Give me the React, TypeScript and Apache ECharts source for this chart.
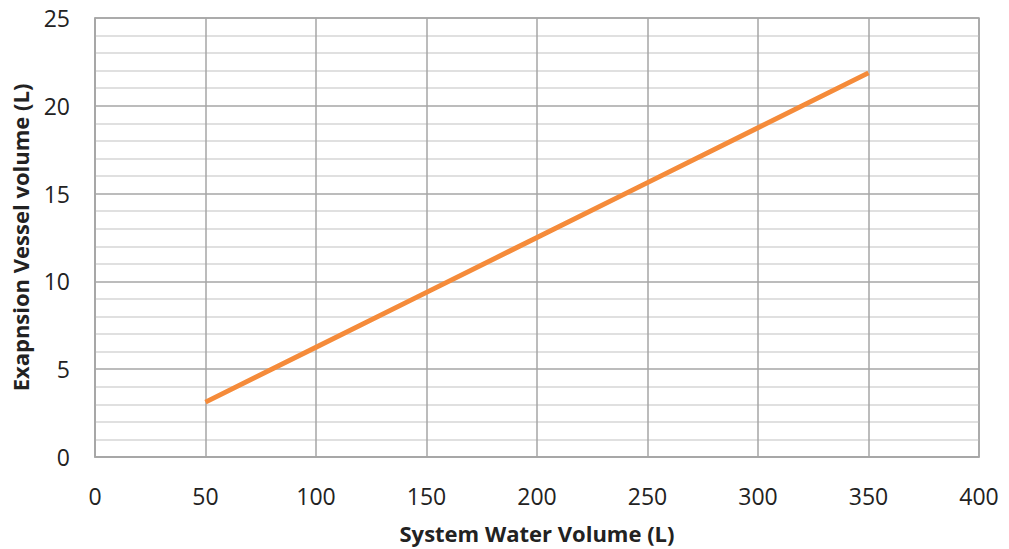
import React, { useEffect, useRef } from "react";
import * as echarts from "echarts";

const systemVolumes = [50, 100, 150, 200, 250, 300, 350];
const vesselVolumes = [3.125, 6.25, 9.375, 12.5, 15.625, 18.75, 21.875];
const xTitle = "System Water Volume (L)";
const yTitle = "Exapnsion Vessel volume (L)";

export default function App() {
  const ref = useRef<HTMLDivElement>(null);
  useEffect(() => {
    const chart = echarts.init(ref.current!, null, { renderer: "svg" });
    const font = "'Open Sans', sans-serif";
    chart.setOption({
      animation: false,
      backgroundColor: "#ffffff",
      grid: {
        left: 95,
        right: 30,
        top: 18,
        bottom: 92,
        outerBoundsMode: "none",
        containLabel: false,
        show: true,
        borderColor: "#a6a6a6",
        borderWidth: 1.5,
      },
      xAxis: {
        type: "value",
        min: 0,
        max: 400,
        interval: 50,
        name: xTitle,
        nameLocation: "middle",
        nameGap: 64,
        nameTextStyle: { fontFamily: font, fontWeight: "bold", fontSize: 22, lineHeight: 24, color: "#222" },
        axisLine: { show: true, lineStyle: { color: "#a6a6a6", width: 1.5 } },
        axisTick: { show: false },
        axisLabel: { fontFamily: font, fontSize: 23, color: "#222", margin: 27 },
        splitLine: { show: true, lineStyle: { color: "#a6a6a6", width: 1.5 } },
      },
      yAxis: {
        type: "value",
        min: 0,
        max: 25,
        interval: 5,
        name: yTitle,
        nameLocation: "middle",
        nameGap: 64,
        nameTextStyle: { fontFamily: font, fontWeight: "bold", fontSize: 22, color: "#222" },
        axisLine: { show: true, lineStyle: { color: "#a6a6a6", width: 1.5 } },
        axisTick: { show: false },
        axisLabel: { fontFamily: font, fontSize: 23, color: "#222", margin: 25, padding: [8, 0, 0, 0] },
        splitLine: { show: true, lineStyle: { color: "#a6a6a6", width: 1.5 } },
        minorTick: { show: false, splitNumber: 5 },
        minorSplitLine: { show: true, lineStyle: { color: "#d6d6d6", width: 1.5 } },
      },
      series: [
        {
          type: "line",
          data: systemVolumes.map((x, i) => [x, vesselVolumes[i]]),
          showSymbol: false,
          symbol: "none",
          lineStyle: { color: "#f58b3a", width: 5 },
        },
      ],
    });
    return () => chart.dispose();
  }, []);
  return <div ref={ref} style={{ width: 1009, height: 549, position: "absolute", left: 0, top: 0 }} />;
}
